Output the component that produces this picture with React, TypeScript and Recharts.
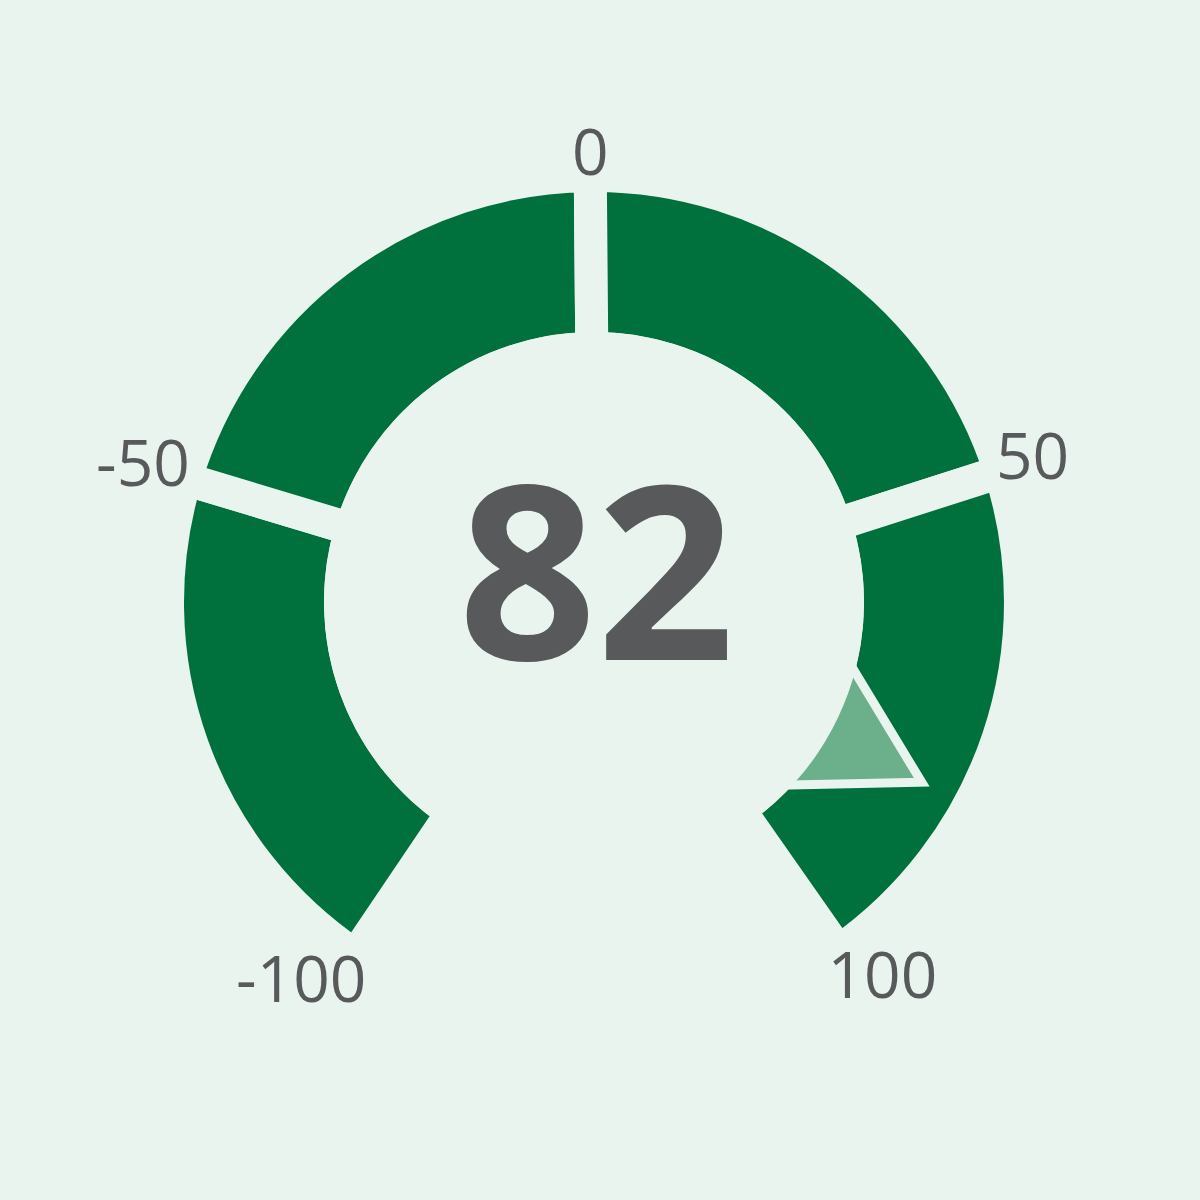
import { Pie, PieChart } from "recharts";

const ticks = [-100, -50, 0, 50, 100];
const bandValues = [50, 50, 50, 50];
const gaugeValue = 82;

const bg = "#eaf4ee";
const dark = "#00713d";
const light = "#6caf8b";
const grey = "#58595b";
const font = "'Open Sans', 'DejaVu Sans', sans-serif";

const CX = 594;
const CY = 602;
const START = 236;
const END = -55;
const GAP = 33;
const INNER = 270;
const OUTER = 410;
const RADIAN = Math.PI / 180;

const bands = bandValues.map((value, i) => ({ name: `${ticks[i]} to ${ticks[i + 1]}`, value }));
const needleData = [
  { name: "value", value: gaugeValue - ticks[0] },
  { name: "rest", value: ticks[ticks.length - 1] - gaugeValue },
];

function polar(cx: number, cy: number, r: number, angle: number) {
  return { x: cx + r * Math.cos(-angle * RADIAN), y: cy + r * Math.sin(-angle * RADIAN) };
}

function tickText(value: number, angle: number, cx: number, cy: number) {
  const p = polar(cx, cy, 427, angle);
  const c = Math.cos(angle * RADIAN);
  const s = Math.sin(angle * RADIAN);
  const anchor = c > 0.1 ? "start" : c < -0.1 ? "end" : "middle";
  const x = p.x - c * (s < -0.15 ? 20 : 5);
  let y = s > 0.15 ? p.y : s < -0.15 ? p.y + 46 : p.y + 23;
  if (s > 0.15 && Math.abs(c) > 0.1) y += 7;
  return (
    <text key={value} x={x} y={y} textAnchor={anchor} fill={grey} fontSize={64} fontFamily={font}>
      {value}
    </text>
  );
}

function renderTick(props: any) {
  const { cx, cy, startAngle, endAngle, index } = props;
  return (
    <g>
      {tickText(ticks[index], startAngle, cx, cy)}
      {index === bands.length - 1 && tickText(ticks[index + 1], endAngle, cx, cy)}
    </g>
  );
}

// triangle pointer at the end of the value sector, hole redrawn on top, then the big number
function renderNeedle(props: any) {
  const { cx, cy, endAngle, index } = props;
  if (index !== 0) return <g />;
  const u = { x: Math.cos(-endAngle * RADIAN), y: Math.sin(-endAngle * RADIAN) };
  const perp = { x: -u.y, y: u.x };
  const baseR = 250;
  const tipR = 374;
  const half = (tipR - baseR) * Math.tan(30 * RADIAN);
  const base = polar(cx, cy, baseR, endAngle);
  const tip = polar(cx, cy, tipR, endAngle);
  const pts = [
    [base.x + perp.x * half, base.y + perp.y * half],
    [tip.x, tip.y],
    [base.x - perp.x * half, base.y - perp.y * half],
  ]
    .map((p) => p.join(","))
    .join(" ");
  return (
    <g>
      <polygon points={pts} fill={light} stroke={bg} strokeWidth={9} strokeLinejoin="miter" />
      <circle cx={cx} cy={cy} r={INNER} fill={bg} />
      <text x={cx + 2.5} y={cy + 58} textAnchor="middle" fill={grey} fontSize={242} fontWeight={700} fontFamily={font}>
        {gaugeValue}
      </text>
    </g>
  );
}

export default function App() {
  return (
    <div style={{ position: "fixed", left: 0, top: 0, width: 1200, height: 1200, background: bg }}>
      <PieChart width={1200} height={1200} margin={{ top: 0, right: 0, bottom: 0, left: 0 }}>
        <Pie
          data={bands}
          dataKey="value"
          nameKey="name"
          cx={CX}
          cy={CY}
          startAngle={START}
          endAngle={END}
          innerRadius={INNER - GAP / 2}
          outerRadius={OUTER + GAP / 2}
          fill={dark}
          stroke={bg}
          strokeWidth={GAP}
          label={renderTick}
          labelLine={false}
          isAnimationActive={false}
        />
        <Pie
          data={needleData}
          dataKey="value"
          nameKey="name"
          cx={CX}
          cy={CY}
          startAngle={START}
          endAngle={END}
          innerRadius={INNER - GAP / 2}
          outerRadius={OUTER + GAP / 2}
          fill="none"
          stroke="none"
          label={renderNeedle}
          labelLine={false}
          isAnimationActive={false}
        />
      </PieChart>
    </div>
  );
}
